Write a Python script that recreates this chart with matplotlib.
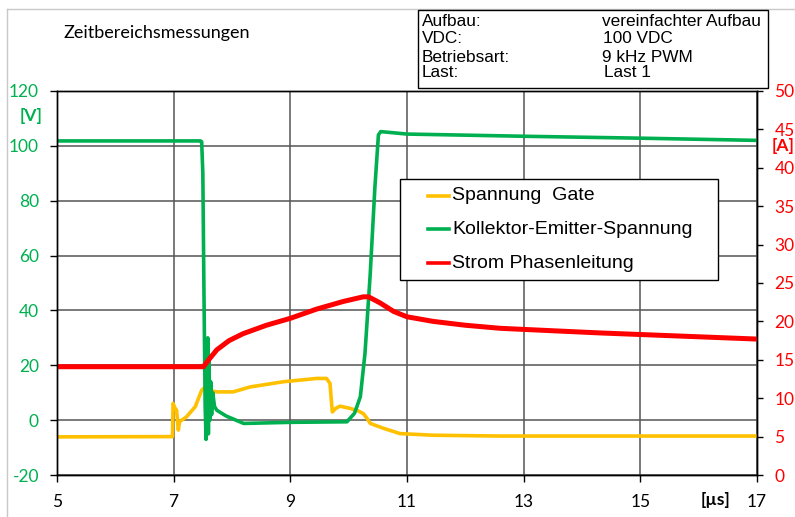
import matplotlib
matplotlib.use("Agg")
import matplotlib.pyplot as plt
from matplotlib.patches import Rectangle
from matplotlib.lines import Line2D

plt.rcParams["axes.unicode_minus"] = False

# time axis in microseconds
t_gate = [5.0, 6.98, 6.99, 7.02, 7.05, 7.08, 7.10, 7.22, 7.37, 7.48, 7.54, 7.60,
          7.74, 8.02, 8.31, 8.88, 9.45, 9.62, 9.68, 9.70, 9.72, 9.78, 9.85, 10.02,
          10.15, 10.25, 10.32, 10.37, 10.60, 10.88, 11.45, 12.60, 17.0]
v_gate = [-6.1, -6.0, 6.1, 4.5, 3.6, -3.6, -0.6, 1.2, 4.9, 10.9, 12.1, 10.9,
          10.3, 10.3, 12.1, 14.0, 15.2, 15.2, 13.4, 8.0, 3.0, 4.3, 5.1, 4.3,
          3.5, 2.4, 0.5, -1.2, -3.0, -4.9, -5.5, -5.8, -5.8]

t_vce = [5.0, 7.46, 7.48, 7.50, 7.52, 7.54, 7.555, 7.565, 7.575, 7.585, 7.595,
         7.605, 7.62, 7.635, 7.65, 7.67, 7.70, 7.74, 7.90, 8.20, 9.00, 9.97,
         10.10, 10.20, 10.28, 10.37, 10.45, 10.51, 10.55, 11.0, 13.0, 15.0, 17.0]
v_ce = [101.8, 101.8, 101.5, 90.0, 45.0, 5.0, -7.0, 15.0, -3.0, 30.0, -5.0,
        22.0, 0.0, 14.0, 2.0, 10.0, 5.0, 3.6, 1.5, -1.2, -0.8, -0.6,
        2.5, 8.5, 24.4, 53.5, 85.0, 104.0, 105.2, 104.3, 103.5, 102.8, 102.0]

t_i = [5.0, 7.51, 7.60, 7.74, 7.95, 8.19, 8.59, 9.0, 9.45, 9.91, 10.25, 10.34,
       10.54, 10.77, 11.0, 11.45, 12.0, 12.6, 14.3, 17.0]
i_ph = [14.1, 14.1, 15.0, 16.3, 17.5, 18.4, 19.5, 20.4, 21.6, 22.6, 23.2, 23.2,
        22.4, 21.3, 20.6, 20.0, 19.5, 19.1, 18.5, 17.7]

x_ticks = [5, 7, 9, 11, 13, 15, 17]
v_ticks = [-20, 0, 20, 40, 60, 80, 100, 120]
a_ticks = [0, 5, 10, 15, 20, 25, 30, 35, 40, 45, 50]

labels = ["Spannung  Gate", "Kollektor-Emitter-Spannung", "Strom Phasenleitung"]
info_keys = ["Aufbau:", "VDC:", "Betriebsart:", "Last:"]
info_vals = ["vereinfachter Aufbau", "100 VDC", "9 kHz PWM", "Last 1"]

YELLOW = "#FFC000"
GREEN = "#00B050"
RED = "#FF0000"

W, H = 795, 517
tick_font = "Lato"
box_font = "Liberation Sans"


def fx(x):
    return x / W


def fy(y):
    return 1 - y / H


fig = plt.figure(figsize=(W / 100, H / 100), dpi=100)
ax = fig.add_axes([fx(57), fy(475), fx(757) - fx(57), fy(91) - fy(475)])
ax2 = ax.twinx()

ax.plot(t_gate, v_gate, color=YELLOW, lw=2.6, solid_joinstyle="round")
ax.plot(t_vce, v_ce, color=GREEN, lw=2.6, solid_joinstyle="round")
ax2.plot(t_i, i_ph, color=RED, lw=3.6, solid_joinstyle="round")

ax.set_xlim(5, 17)
ax.set_ylim(-20, 120)
ax2.set_ylim(0, 50)
ax.set_xticks(x_ticks)
ax.set_yticks(v_ticks)
ax2.set_yticks(a_ticks)

ax.grid(True, color="#555555", lw=1.1)
ax.set_axisbelow(True)
for sp in list(ax.spines.values()) + list(ax2.spines.values()):
    sp.set_color("black")
    sp.set_linewidth(1.0)

ax.tick_params(axis="y", colors=GREEN, length=5, width=1, pad=8,
               labelsize=12.5, color="black")
ax.tick_params(axis="x", colors="black", length=5, width=1, pad=9,
               labelsize=12.5)
ax2.tick_params(axis="y", colors=RED, length=4.5, width=1, pad=8,
                labelsize=12.5, color="black")
for lab in ax.get_xticklabels() + ax.get_yticklabels() + ax2.get_yticklabels():
    lab.set_fontfamily(tick_font)
for lab in ax.get_yticklabels():
    lab.set_color(GREEN)
for lab in ax2.get_yticklabels():
    lab.set_color(RED)

# unit labels
fig.text(fx(31), fy(116), "[V]", color=GREEN, fontsize=12.5, fontweight="bold",
         family=tick_font, ha="center", va="center")
fig.text(fx(783), fy(146), "[A]", color=RED, fontsize=12.5, fontweight="bold",
         family=tick_font, ha="center", va="center")
fig.text(fx(715), fy(500), "[µs]", color="black", fontsize=12.5, fontweight="bold",
         family=tick_font, ha="center", va="center")

# title
fig.text(fx(63), fy(33), "Zeitbereichsmessungen", fontsize=13, family=tick_font,
         ha="left", va="center")

# outer frame of the chart area
fig.add_artist(Line2D([fx(7), 1], [fy(9), fy(9)], color="#c8c8c8", lw=1))
fig.add_artist(Line2D([fx(7), fx(7)], [fy(9), 0], color="#c8c8c8", lw=1))

# info box
fig.add_artist(Rectangle((fx(418), fy(88)), fx(768) - fx(418), fy(9.5) - fy(88),
                         facecolor="white", edgecolor="black", lw=1, zorder=5))
rows_y = [21.5, 38.5, 57, 73]
cols_x = [601.5, 603, 601.5, 604]
for k, v, y, xv in zip(info_keys, info_vals, rows_y, cols_x):
    fig.text(fx(422), fy(y), k, fontsize=12.4, family=box_font,
             ha="left", va="center", zorder=6)
    fig.text(fx(xv), fy(y), v, fontsize=12.4, family=box_font,
             ha="left", va="center", zorder=6)

# legend
fig.add_artist(Rectangle((fx(399.5), fy(280)), fx(718) - fx(399.5), fy(179) - fy(280),
                         facecolor="white", edgecolor="black", lw=1, zorder=5))
for lab, col, y in zip(labels, [YELLOW, GREEN, RED], [195.5, 229, 263]):
    fig.add_artist(Line2D([fx(428), fx(449)], [fy(y), fy(y)], color=col, lw=2.6,
                          zorder=6))
    fig.text(fx(452), fy(y), lab, fontsize=14, family=box_font,
             ha="left", va="center", zorder=6)

fig.savefig("out.png", dpi=100)
